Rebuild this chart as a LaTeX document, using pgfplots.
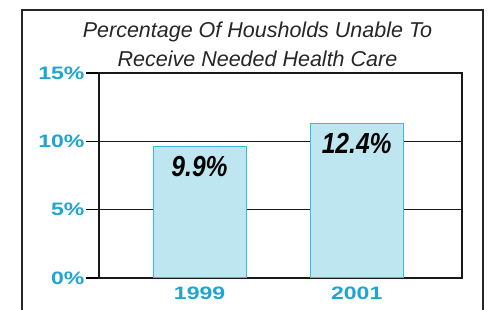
\documentclass[border=0pt]{standalone}
\usepackage{fontspec}
\setmainfont{Liberation Sans}
\newfontfamily\tickfont[FakeStretch=1.28]{Liberation Sans Bold}
\newfontfamily\valfont[FakeStretch=0.85]{Liberation Sans Bold Italic}
\usepackage{pgfplots}
\pgfplotsset{compat=1.18}
\definecolor{ticktxt}{RGB}{30,165,210}
\definecolor{barfill}{RGB}{190,230,240}
\definecolor{bardraw}{RGB}{60,185,220}
\begin{document}
\begin{tikzpicture}
\useasboundingbox (0pt,0pt) rectangle (493pt,310pt);
\fill[white] (0pt,0pt) rectangle (493pt,310pt);
\draw[line width=2pt, black!85] (22pt,-2pt) -- (22pt,300pt) -- (483pt,300pt) -- (483pt,-2pt);
\begin{axis}[
  at={(99pt,32pt)}, anchor=south west,
  scale only axis, width=363pt, height=205pt,
  xmin=-0.64, xmax=1.67, ymin=0, ymax=15,
  ytick={0,5,10,15}, yticklabels={0\%,5\%,10\%,15\%},
  xtick={0,1}, xticklabels={1999,2001},
  ymajorgrids, grid style={black!90, line width=1.5pt},
  axis line style={black!90, line width=1.5pt},
  ytick pos=left, tick align=outside, major tick length=13pt,
  ytick style={black, line width=1.5pt},
  xtick style={draw=none},
  ticklabel style={font=\fontsize{18}{20}\selectfont\tickfont, text=ticktxt},
  yticklabel style={xshift=2pt},
  xticklabel style={yshift=8pt},
]
\addplot[ybar, bar width=93pt, fill=barfill, draw=bardraw, line width=1pt,
  nodes near coords, point meta=explicit symbolic,
  every node near coord/.append style={font=\fontsize{29}{30}\selectfont\valfont, text=black, anchor=base, yshift=-30pt}]
  coordinates {(0,9.59) [9.9\%] (1,11.27) [12.4\%]};
\end{axis}
\node[anchor=base, font=\fontsize{21.5}{26}\selectfont\itshape, text=black!85, inner sep=0pt] at (257.5pt,272pt) {Percentage Of Housholds Unable To};
\node[anchor=base, font=\fontsize{21.5}{26}\selectfont\itshape, text=black!85, inner sep=0pt] at (257.5pt,243pt) {Receive Needed Health Care};
\end{tikzpicture}
\end{document}
